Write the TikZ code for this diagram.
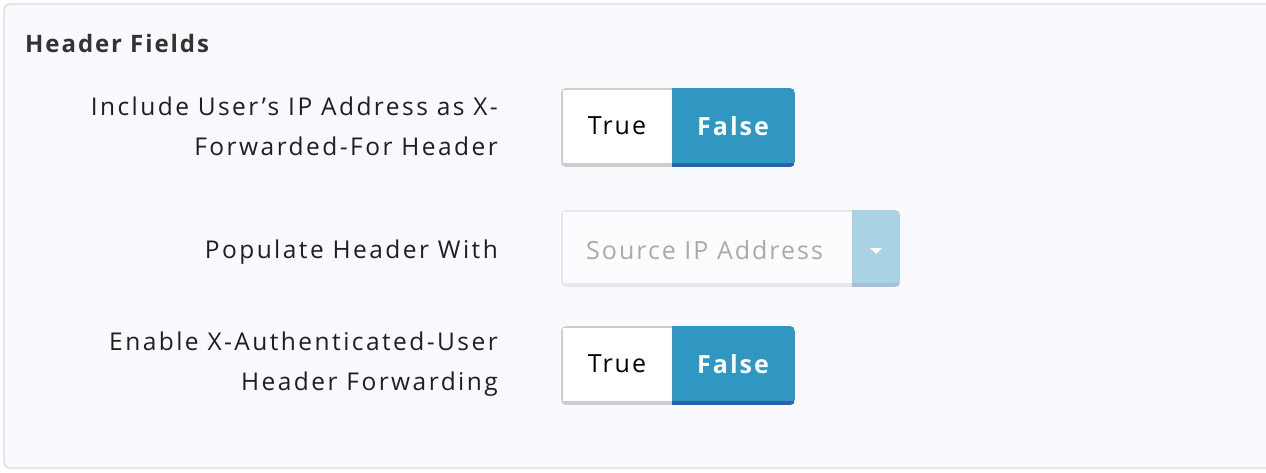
\documentclass[tikz,border=0pt]{standalone}
\usepackage{fontspec}
\setmainfont{Open Sans}
\newfontfamily\labelfont[LetterSpace=10]{Open Sans}
\newfontfamily\ctrlfont[LetterSpace=8]{Open Sans}
\definecolor{panelbg}{HTML}{F9FAFE}
\definecolor{panelline}{HTML}{E3E5E9}
\definecolor{btnblue}{HTML}{3096C2}
\definecolor{btndark}{HTML}{2C62AC}
\definecolor{btngray}{HTML}{CDCDCD}
\definecolor{ddline}{HTML}{E6E7EA}
\definecolor{ddarrow}{HTML}{A9D3E4}
\definecolor{ddarrowdark}{HTML}{A8BCDB}
\definecolor{hint}{HTML}{AAAAAA}
\tikzset{
  lbl/.style={anchor=east, align=right, inner sep=0pt, text=black!88,
    font=\labelfont\fontsize{24.5}{40}\selectfont},
  btntext/.style={inner sep=0pt, font=\ctrlfont\fontsize{25}{30}\selectfont},
}
\newcommand{\toggle}[2]{%
  \begin{scope}
    \clip[rounded corners=5pt] (561,#1) rectangle (795,#1+79);
    \fill[btngray] (561,#1) rectangle (672,#1+79);
    \fill[white] (563,#1+2) rectangle (672,#1+75);
    \fill[btnblue] (672,#1) rectangle (795,#1+79);
    \fill[btndark] (672,#1+75) rectangle (795,#1+79);
  \end{scope}
  \node[btntext, text=black] (#2true) at (617,#1+38) {True};
  \node[btntext, text=white, font=\ctrlfont\fontsize{25}{30}\selectfont\bfseries] (#2false) at (733,#1+38) {False};
}
\begin{document}
\begin{tikzpicture}[x=1pt, y=-1pt]
  \useasboundingbox (0,0) rectangle (1266,472);
  \fill[white] (0,0) rectangle (1266,472);
  \begin{scope}
    \clip (0,0) rectangle (1266,472);
    \draw[panelline, fill=panelbg, line width=2pt, rounded corners=6pt] (4,4) rectangle (1290,468);
  \end{scope}

  \node[anchor=west, inner sep=0pt, text=black!80, font=\ctrlfont\fontsize{24}{30}\selectfont\bfseries] (title) at (25,43) {Header Fields};

  \node[lbl] (xff) at (498,126) {Include User’s IP Address as X-\\Forwarded-For Header};
  \node[lbl] (populate) at (498,252) {Populate Header With};
  \node[lbl] (authuser) at (498,364) {Enable X-Authenticated-User\\Header Forwarding};

  \toggle{88}{xff}
  \toggle{326}{auth}

  % dropdown
  \begin{scope}
    \clip[rounded corners=5pt] (561,210) rectangle (900,287);
    \fill[ddline] (561,210) rectangle (852,287);
    \fill[panelbg!60!white] (563,212) rectangle (852,283);
    \fill[ddarrow] (852,210) rectangle (900,287);
    \fill[ddarrowdark] (852,283) rectangle (900,287);
  \end{scope}
  \node[btntext, anchor=west, text=hint] (source) at (586,250) {Source IP Address};
  \fill[white] (870,248) -- (882,248) -- (876,254) -- cycle;
\end{tikzpicture}
\end{document}
